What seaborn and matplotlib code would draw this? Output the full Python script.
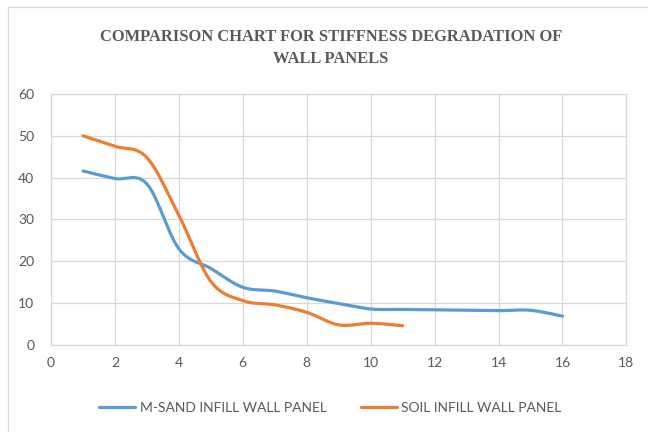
import numpy as np
import pandas as pd
import matplotlib.pyplot as plt
import seaborn as sns
from matplotlib.patches import Rectangle

# values
msand_x = [1, 2, 3, 4, 5, 6, 7, 8, 9, 10, 11, 12, 13, 14, 15, 16]
msand_y = [41.6, 39.8, 38.5, 23.0, 18.3, 13.8, 12.9, 11.3, 9.9, 8.6, 8.5, 8.4, 8.3, 8.2, 8.3, 6.9]
soil_x = [1, 2, 3, 4, 5, 6, 7, 8, 9, 10, 11]
soil_y = [50.0, 47.5, 44.8, 31.0, 15.2, 10.6, 9.6, 7.8, 4.8, 5.2, 4.6]

labels = ['M-SAND INFILL WALL PANEL', 'SOIL INFILL WALL PANEL']
colors = ['#5B9BD5', '#ED7D31']
title = 'COMPARISON CHART FOR STIFFNESS DEGRADATION OF\nWALL PANELS'

GREY = '#595959'
GRID = '#d9d9d9'


def smooth(x, y, n=30):
    """Excel-style smoothed line: cubic bezier through every point."""
    p = np.column_stack([x, y]).astype(float)
    p = np.vstack([p[0], p, p[-1]])
    out = []
    t = np.linspace(0, 1, n)[:, None]
    for i in range(1, len(p) - 2):
        p0, p1, p2, p3 = p[i - 1], p[i], p[i + 1], p[i + 2]
        c1 = p1 + (p2 - p0) / 6
        c2 = p2 - (p3 - p1) / 6
        seg = ((1 - t) ** 3) * p1 + 3 * ((1 - t) ** 2) * t * c1 + 3 * (1 - t) * t ** 2 * c2 + t ** 3 * p2
        out.append(seg if i == 1 else seg[1:])
    out = np.vstack(out)
    return out[:, 0], out[:, 1]


sns.set_theme(style='white')
plt.rcParams['font.family'] = ['Lato', 'DejaVu Sans']

fig = plt.figure(figsize=(6.48, 4.32), dpi=100)
ax = fig.add_axes([0.0787, 0.2014, 0.888, 0.581])

for xs, ys, lab, col in [(msand_x, msand_y, labels[0], colors[0]),
                         (soil_x, soil_y, labels[1], colors[1])]:
    sx, sy = smooth(xs, ys)
    sns.lineplot(x=sx, y=sy, sort=False, estimator=None, color=col,
                 linewidth=2.3, label=lab, ax=ax)

ax.set_xlim(0, 18)
ax.set_ylim(0, 60)
ax.set_xticks(range(0, 19, 2))
ax.set_yticks(range(0, 61, 10))
ax.grid(True, color=GRID, linewidth=0.9)
ax.set_axisbelow(True)
for s in ax.spines.values():
    s.set_color(GRID)
    s.set_linewidth(0.9)
ax.tick_params(colors=GREY, labelsize=10, length=0)
ax.tick_params(axis='x', pad=9)
ax.tick_params(axis='y', pad=12)
ax.set_xlabel('')
ax.set_ylabel('')

ax.get_legend().remove()
handles, labs = ax.get_legend_handles_labels()
leg = fig.legend(handles, labs, loc='center', bbox_to_anchor=(0.51, 0.055), ncol=2,
                 frameon=False, fontsize=10, handlelength=2.6, columnspacing=2.5,
                 handletextpad=0.3)
for t in leg.get_texts():
    t.set_color(GREY)

fig.text(0.511, 0.889, title, ha='center', va='center', multialignment='center',
         fontsize=11.9, fontweight='bold', color=GREY, family='Liberation Serif',
         linespacing=1.5)

fig.patches.append(Rectangle((8 / 648, -0.2), 1.5, 1.2 - 7 / 432, transform=fig.transFigure,
                             fill=False, edgecolor=GRID, linewidth=0.9, figure=fig))

fig.savefig('out.png', dpi=100)
